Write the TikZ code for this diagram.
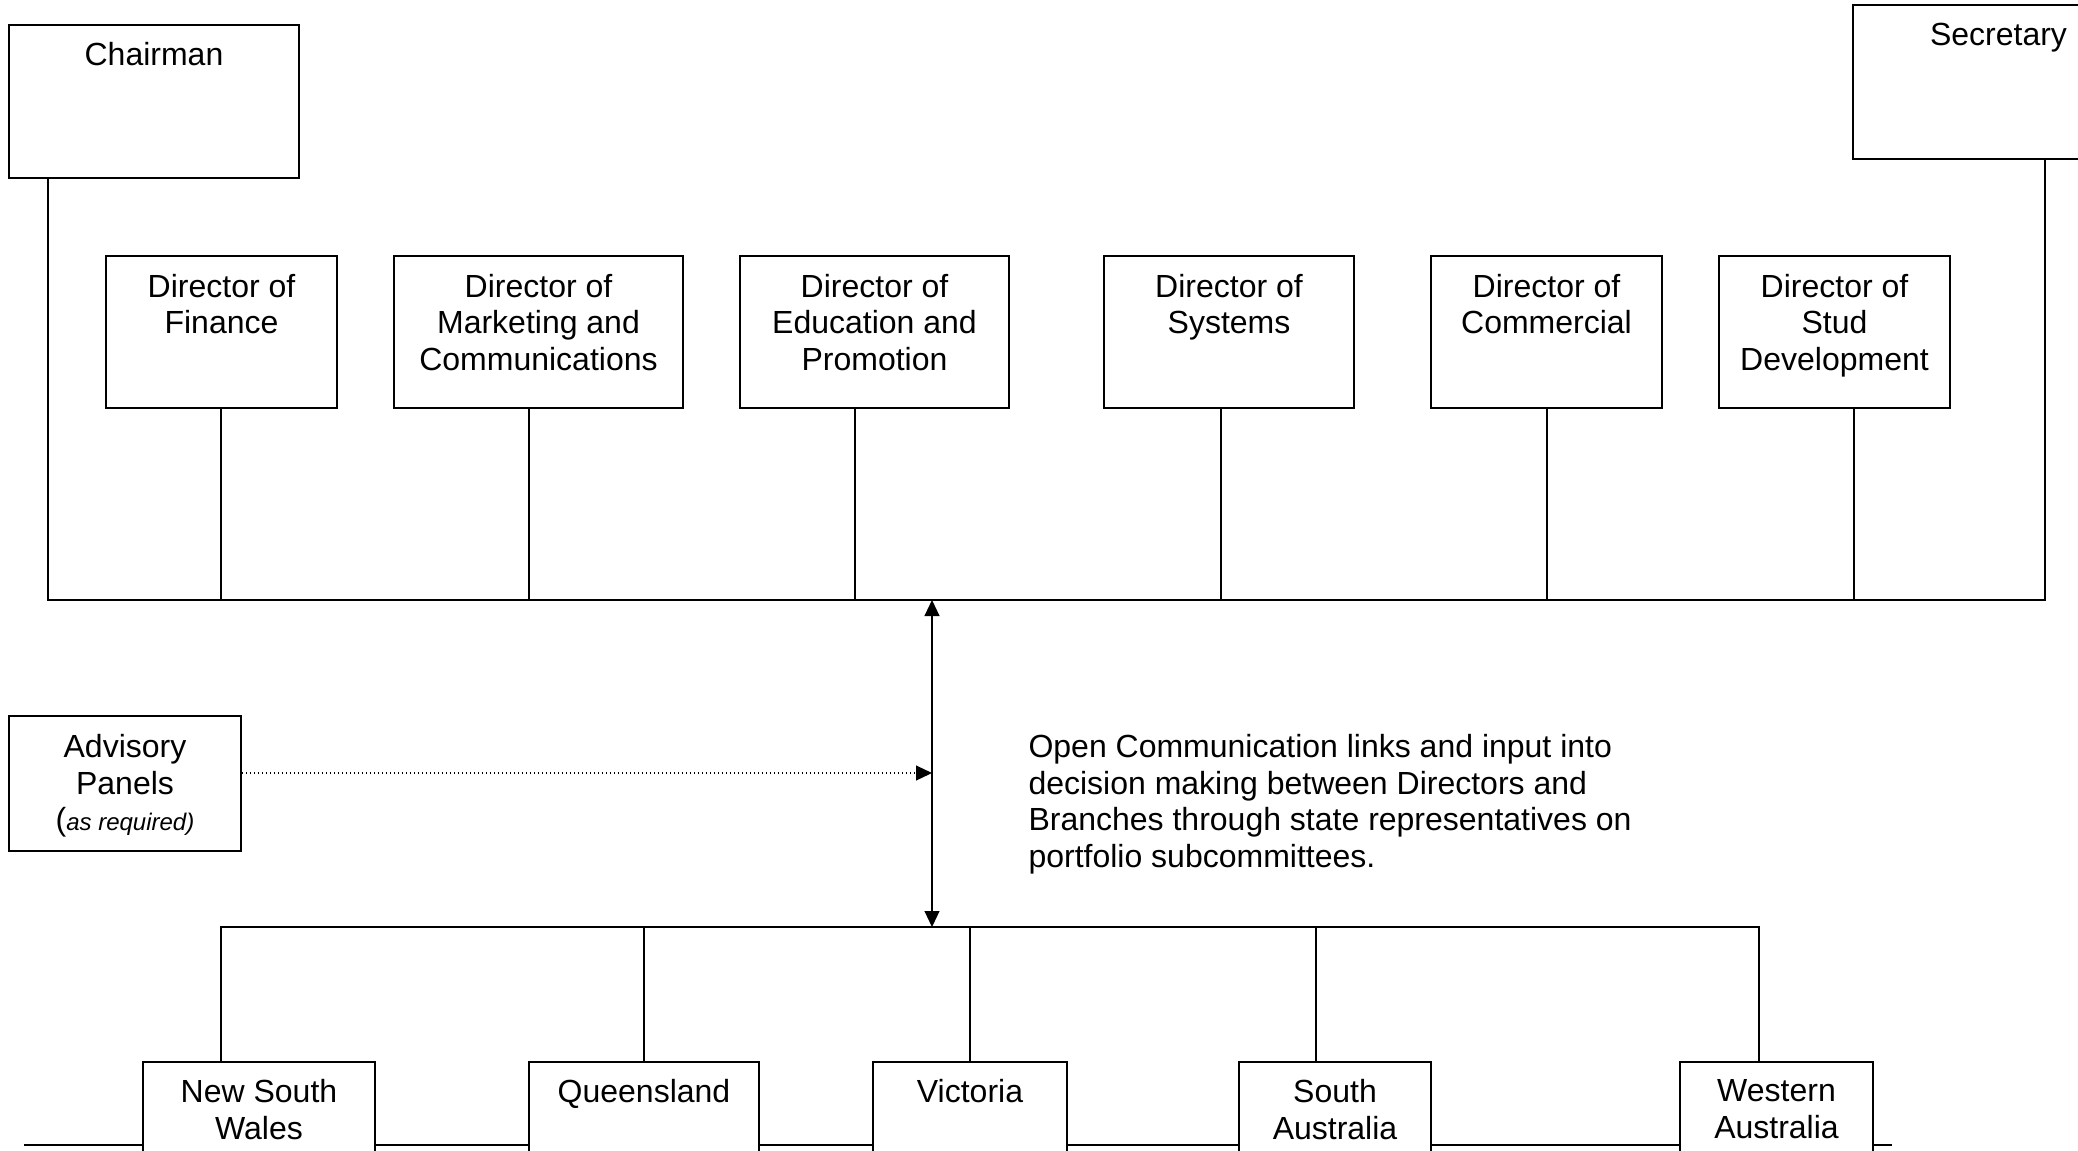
\documentclass[tikz,border=0pt]{standalone}
\usepackage{fontspec}
\setmainfont{Liberation Sans}
\usetikzlibrary{arrows.meta, positioning, fit}

\tikzset{
  box/.style={draw, line width=0.7pt, fill=white, inner sep=0pt},
  lbl/.style={align=center, inner sep=0pt, font=\fontsize{12}{13.7}\selectfont},
  link/.style={line width=0.5pt}
}

\begin{document}
\begin{tikzpicture}[x=0.375pt, y=-0.375pt, >={Triangle[length=6pt, width=5.6pt]}]
\useasboundingbox (0,0) rectangle (2078,1150);

% Board
\node[box, fit={(9,25) (299,178)}] (chair) {};
\node[lbl, below=6.8pt of chair.north] (chairT) {Chairman};
\node[box, fit={(1853,5) (2144,159)}] (sec) {};
\node[lbl, below=7pt of sec.north] (secT) {Secretary};

% Directors
\node[box, fit={(106,256) (337,408)}] (fin) {};
\node[lbl, below=7pt of fin.north] (finT) {Director of\\Finance};
\node[box, fit={(394,256) (683,408)}] (mkt) {};
\node[lbl, below=7pt of mkt.north] (mktT) {Director of\\Marketing and\\Communications};
\node[box, fit={(740,256) (1009,408)}] (edu) {};
\node[lbl, below=7pt of edu.north] (eduT) {Director of\\Education and\\Promotion};
\node[box, fit={(1104,256) (1354,408)}] (sys) {};
\node[lbl, below=7pt of sys.north] (sysT) {Director of\\Systems};
\node[box, fit={(1431,256) (1662,408)}] (com) {};
\node[lbl, below=7pt of com.north] (comT) {Director of\\Commercial};
\node[box, fit={(1719,256) (1950,408)}] (stud) {};
\node[lbl, below=7pt of stud.north] (studT) {Director of\\Stud\\Development};

% Board bus
\coordinate (busL) at (48,600);
\coordinate (busR) at (2045,600);
\draw[link] (chair.south -| busL) -- (busL) -- (busR) -- (sec.south -| busR);
\foreach \n/\x in {fin/221, mkt/529, edu/855, sys/1221, com/1547, stud/1854} {
  \coordinate (b\n) at (\x,600);
  \draw[link] (b\n |- \n.south) -- (b\n);
}

% Advisory panels
\node[box, fit={(9,716) (241,851)}] (adv) {};
\node[lbl] (advT) at ([yshift=-1pt]adv.center) {Advisory\\Panels\\({\fontsize{9}{13.7}\selectfont\itshape as required)}};

% Two way link
\coordinate (upT) at (932,600);
\coordinate (dnT) at (932,927);
\draw[link, <->] (upT) -- (dnT);
\coordinate (advIn) at (932,773);
\draw[link, densely dotted, ->] (adv.east |- advIn) -- (advIn);

\node[lbl, anchor=north west, align=left] (note) at (1028,734) {Open Communication links and input into\\decision making between Directors and\\Branches through state representatives on\\portfolio subcommittees.};

% Branches
\coordinate (baseL) at (24,1145);
\coordinate (baseR) at (1892,1145);
\draw[line width=1.1pt] (baseL) -- (baseR);

\node[box, fit={(143,1062) (375,1200)}] (nsw) {};
\node[lbl, below=6.8pt of nsw.north] (nswT) {New South\\Wales};
\node[box, fit={(529,1062) (759,1200)}] (qld) {};
\node[lbl, below=6.8pt of qld.north] (qldT) {Queensland};
\node[box, fit={(873,1062) (1067,1200)}] (vic) {};
\node[lbl, below=6.8pt of vic.north] (vicT) {Victoria};
\node[box, fit={(1239,1062) (1431,1200)}] (sa) {};
\node[lbl, below=6.8pt of sa.north] (saT) {South\\Australia};
\node[box, fit={(1680,1062) (1873,1200)}] (wa) {};
\node[lbl, below=6.8pt of wa.north] (waT) {Western\\Australia};

% Branch bus
\coordinate (sbL) at (221,927);
\coordinate (sbR) at (1759,927);
\draw[link] (nsw.north -| sbL) -- (sbL) -- (sbR) -- (wa.north -| sbR);
\foreach \n/\x in {qld/644, vic/970, sa/1316} {
  \coordinate (s\n) at (\x,927);
  \draw[link] (s\n |- \n.north) -- (s\n);
}
\end{tikzpicture}
\end{document}
